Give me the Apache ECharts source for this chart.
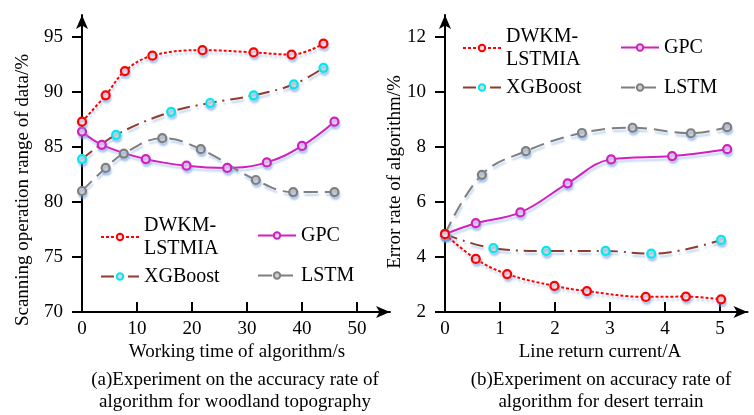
<!DOCTYPE html>
<html>
<head>
<meta charset="utf-8">
<script src="https://cdn.jsdelivr.net/npm/echarts@6/dist/echarts.min.js"></script>
<style>
  html, body { margin: 0; padding: 0; background: #fff; }
  #chart { width: 754px; height: 415px; }
</style>
</head>
<body>
<div id="chart"></div>
<script>
// (a) woodland topography: [working time /s, scanning range /%]
const dwkmA = [[0, 87.3], [4.3, 89.7], [7.8, 91.9], [12.8, 93.3], [21.9, 93.8], [31.2, 93.6], [38.1, 93.4], [43.9, 94.4]]
const xgbA = [[0, 83.9], [6.2, 86.1], [16.2, 88.2], [23.3, 89.0], [31.2, 89.7], [38.5, 90.7], [43.9, 92.2]]
const gpcA = [[0, 86.4], [3.6, 85.2], [11.6, 83.9], [19.0, 83.3], [26.4, 83.1], [33.6, 83.6], [40.0, 85.1], [45.9, 87.3]]
const lstmA = [[0, 81.0], [4.3, 83.1], [7.6, 84.4], [14.6, 85.8], [21.6, 84.8], [31.6, 82.0], [38.4, 80.9], [45.9, 80.9]]

// (b) desert terrain: [line return current /A, error rate /%]
const dwkmB = [[0, 4.83], [0.56, 3.93], [1.13, 3.38], [1.99, 2.95], [2.58, 2.76], [3.65, 2.55], [4.38, 2.56], [5.02, 2.46]]
const xgbB = [[0, 4.83], [0.88, 4.32], [1.84, 4.22], [2.92, 4.22], [3.75, 4.12], [5.02, 4.62]]
const gpcB = [[0, 4.83], [0.56, 5.23], [1.37, 5.62], [2.23, 6.68], [3.02, 7.55], [4.13, 7.67], [5.13, 7.92]]
const lstmB = [[0, 4.83], [0.67, 6.99], [1.47, 7.85], [2.49, 8.51], [3.41, 8.70], [4.47, 8.50], [5.13, 8.72]]

const xTicksA = [0, 10, 20, 30, 40, 50]
const yTicksA = [70, 75, 80, 85, 90, 95]
const xTicksB = [0, 1, 2, 3, 4, 5]
const yTicksB = [2, 4, 6, 8, 10, 12]

const seriesNames = ['DWKM-LSTMIA', 'XGBoost', 'GPC', 'LSTM']

const FONT = 'Liberation Serif'
const shadow = { shadowColor: 'rgba(110, 160, 225, 0.45)', shadowBlur: 2, shadowOffsetX: 1, shadowOffsetY: 3 }

const styles = {
  'DWKM-LSTMIA': { line: '#ff0000', type: [3, 2], fill: '#ffe0e0', border: '#ff0000' },
  'XGBoost': { line: '#8e3b30', type: [13, 6, 2, 6], fill: '#d8d8d8', border: '#00e8f0' },
  'GPC': { line: '#d21fc0', type: 'solid', fill: '#f5d0f0', border: '#d21fc0' },
  'LSTM': { line: '#7f7f7f', type: [14, 7], fill: '#d0d0d0', border: '#7f7f7f' }
}

const makeSeries = (name, data, idx) => {
  const s = styles[name]
  return {
    name: name,
    type: 'line',
    xAxisIndex: idx,
    yAxisIndex: idx,
    smooth: 0.4,
    symbol: 'circle',
    symbolSize: 8,
    data: data,
    lineStyle: { width: 2, color: s.line, type: s.type, ...shadow },
    itemStyle: { color: s.fill, borderColor: s.border, borderWidth: 2.2, ...shadow },
    z: name === 'DWKM-LSTMIA' ? 5 : 3
  }
}

const axisLineStyle = { show: true, onZero: false, symbol: ['none', 'arrow'], symbolSize: [9, 14], lineStyle: { color: '#000', width: 2 } }
const labelStyle = { color: '#000', fontFamily: FONT, fontSize: 19 }

const xAxisOf = (idx, max, ticks) => ({
  type: 'value',
  gridIndex: idx,
  min: 0,
  max: max,
  axisLine: axisLineStyle,
  axisTick: { show: true, inside: true, length: 10, customValues: ticks, lineStyle: { color: '#000', width: 2 } },
  axisLabel: { ...labelStyle, margin: 8, customValues: ticks },
  splitLine: { show: false }
})

const yAxisOf = (idx, min, max, ticks) => ({
  type: 'value',
  gridIndex: idx,
  min: min,
  max: max,
  axisLine: axisLineStyle,
  axisTick: { show: true, length: 10, customValues: ticks, lineStyle: { color: '#000', width: 2 } },
  axisLabel: { ...labelStyle, margin: 19, customValues: ticks },
  splitLine: { show: false }
})

const legendOf = (left, top, names, gap) => ({
  orient: 'vertical',
  left: left,
  top: top,
  padding: 0,
  data: names,
  itemWidth: 38,
  itemHeight: 8,
  itemGap: gap,
  selectedMode: false,
  formatter: (n) => n === 'DWKM-LSTMIA' ? 'DWKM-\nLSTMIA' : n,
  textStyle: { ...labelStyle, fontSize: 20, lineHeight: 23 }
})

const text = (x, y, str, rotate) => ({
  type: 'text',
  x: x,
  y: y,
  rotation: rotate ? Math.PI / 2 : 0,
  style: { text: str, fill: '#000', font: '19px "' + FONT + '"', textAlign: 'center', textVerticalAlign: 'middle', lineHeight: 22 }
})

const chart = echarts.init(document.getElementById('chart'))
chart.setOption({
  backgroundColor: '#fff',
  animation: false,
  grid: [
    { left: 82, top: 15, width: 308, height: 297 },
    { left: 445, top: 15, width: 302.5, height: 297 }
  ],
  xAxis: [xAxisOf(0, 56, xTicksA), xAxisOf(1, 5.5, xTicksB)],
  yAxis: [yAxisOf(0, 70, 97, yTicksA), yAxisOf(1, 2, 12.8, yTicksB)],
  legend: [
    legendOf(100, 214, ['DWKM-LSTMIA', 'XGBoost'], 5),
    legendOf(257, 224, ['GPC', 'LSTM'], 17),
    legendOf(462, 25, ['DWKM-LSTMIA', 'XGBoost'], 5),
    legendOf(620, 36, ['GPC', 'LSTM'], 17)
  ],
  graphic: [
    text(23, 190, 'Scanning operation range of data/%', true),
    text(395, 172, 'Error rate of algorithm/%', true),
    text(237, 352, 'Working time of algorithm/s'),
    text(600, 352, 'Line return current/A'),
    text(235, 391, '(a)Experiment on the accuracy rate of\nalgorithm for woodland topography'),
    text(601, 391, '(b)Experiment on accuracy rate of\nalgorithm for desert terrain')
  ],
  series: [
    makeSeries(seriesNames[0], dwkmA, 0),
    makeSeries(seriesNames[1], xgbA, 0),
    makeSeries(seriesNames[2], gpcA, 0),
    makeSeries(seriesNames[3], lstmA, 0),
    makeSeries(seriesNames[0], dwkmB, 1),
    makeSeries(seriesNames[1], xgbB, 1),
    makeSeries(seriesNames[2], gpcB, 1),
    makeSeries(seriesNames[3], lstmB, 1)
  ]
})
</script>
</body>
</html>
